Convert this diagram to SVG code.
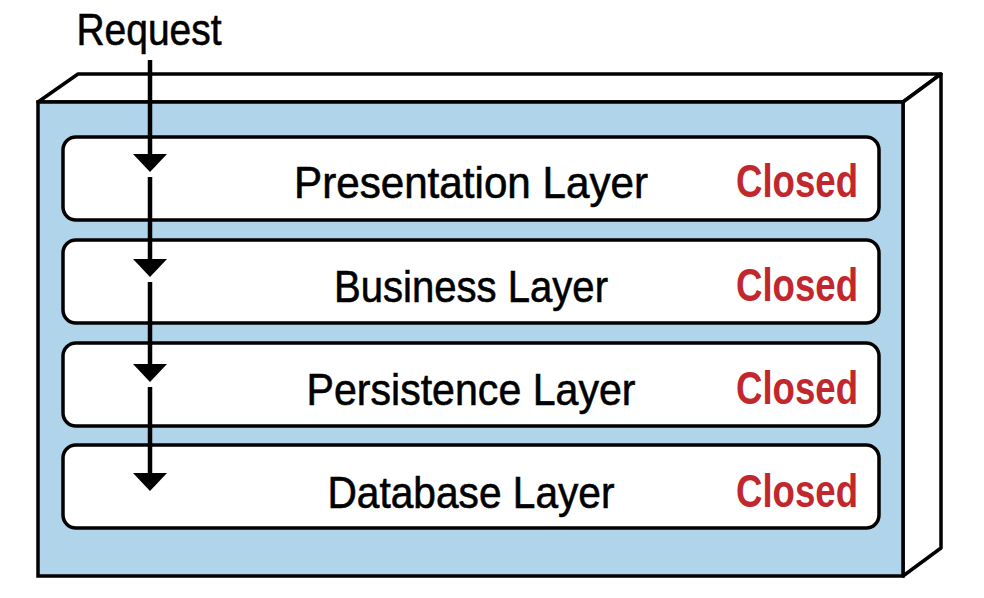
<svg xmlns="http://www.w3.org/2000/svg" width="984" height="598" viewBox="0 0 984 598">
  <style>
    .box { fill: #ffffff; stroke: #000000; stroke-width: 3.5; stroke-linejoin: round; }
    .front { fill: #b0d4ea; stroke: #000000; stroke-width: 3.5; }
    .layer { fill: #ffffff; stroke: #000000; stroke-width: 3.5; }
    .label { font-family: "Liberation Sans", Arial, sans-serif; font-size: 45px; fill: #000000; stroke: #000000; stroke-width: 0.6; text-anchor: middle; }
    .status { font-family: "Liberation Sans", Arial, sans-serif; font-size: 46px; font-weight: bold; fill: #c1272d; text-anchor: middle; }
    .flow { stroke: #000000; stroke-width: 4.5; fill: none; }
    .head { fill: #000000; }
  </style>

  <!-- container: top and side faces, then front face -->
  <g id="container">
    <path class="box" d="M38,102 L78,74 L941,74 L903,102 Z"/>
    <path class="box" d="M903,102 L941,74 L941,548 L903,576 Z"/>
    <rect class="front" x="38" y="102" width="865" height="474"/>
  </g>

  <g id="presentation">
    <rect class="layer" x="63" y="137" width="816" height="83" rx="13"/>
    <text class="label" x="471" y="198" textLength="354" lengthAdjust="spacingAndGlyphs">Presentation Layer</text>
    <text class="status" x="797" y="197" textLength="122" lengthAdjust="spacingAndGlyphs">Closed</text>
  </g>
  <g id="business">
    <rect class="layer" x="63" y="240" width="816" height="83" rx="13"/>
    <text class="label" x="471" y="302" textLength="274" lengthAdjust="spacingAndGlyphs">Business Layer</text>
    <text class="status" x="797" y="301" textLength="122" lengthAdjust="spacingAndGlyphs">Closed</text>
  </g>
  <g id="persistence">
    <rect class="layer" x="63" y="343" width="816" height="83" rx="13"/>
    <text class="label" x="471" y="405" textLength="329" lengthAdjust="spacingAndGlyphs">Persistence Layer</text>
    <text class="status" x="797" y="404" textLength="122" lengthAdjust="spacingAndGlyphs">Closed</text>
  </g>
  <g id="database">
    <rect class="layer" x="63" y="445" width="816" height="83" rx="13"/>
    <text class="label" x="471" y="508" textLength="287" lengthAdjust="spacingAndGlyphs">Database Layer</text>
    <text class="status" x="797" y="507" textLength="122" lengthAdjust="spacingAndGlyphs">Closed</text>
  </g>

  <g id="request">
    <text class="label" x="149" y="45" textLength="145" lengthAdjust="spacingAndGlyphs">Request</text>
  </g>

  <!-- request flow through each layer -->
  <g id="connectors">
    <path d="M150,60 V160" class="flow"/>
    <path class="head" d="M133,154 L167,154 L150,172 Z"/>
    <path d="M150,177 V264" class="flow"/>
    <path class="head" d="M133,259 L167,259 L150,277 Z"/>
    <path d="M150,282 V369" class="flow"/>
    <path class="head" d="M133,364 L167,364 L150,382 Z"/>
    <path d="M150,387 V478" class="flow"/>
    <path class="head" d="M133,473 L167,473 L150,491 Z"/>
  </g>
</svg>
